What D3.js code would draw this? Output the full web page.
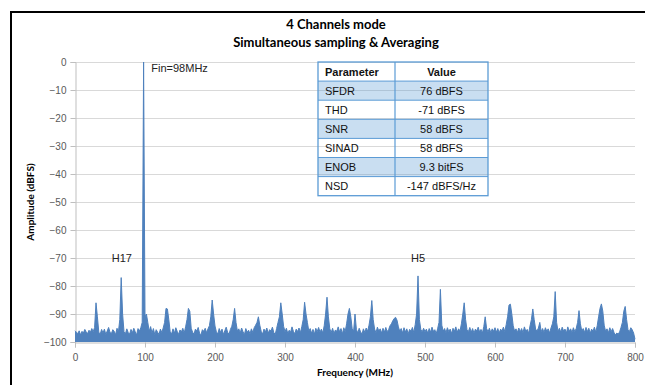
<!DOCTYPE html>
<html><head><meta charset="utf-8">
<script src="https://cdn.jsdelivr.net/npm/d3@7/dist/d3.min.js"></script>
<style>body{margin:0;background:#fff}svg{display:block}</style>
</head><body>
<svg id="c" width="645" height="385"></svg>
<script>
const titleLines = ["4 Channels mode", "Simultaneous sampling & Averaging"];
const xTicks = [0,100,200,300,400,500,600,700,800];
const yTicks = [0,-10,-20,-30,-40,-50,-60,-70,-80,-90,-100];
const freqStep = 2; // MHz between samples
const amplitude = [
 -96,-96.5,-97,-96,-97.5,-96.2,-96.8,-95.5,-96.4,-97,-95.8,-96.5,-95.2,-96.3,-94.8,-86,-91,-96.5,-97.2,-95.5,
 -96.8,-95.4,-97.3,-96.1,-94.8,-96.5,-97,-95.6,-96.2,-97.4,-95.1,-96.4,-92,-77,-90,-96.3,-97.1,-95.3,-96.6,-97.2,
 -95.5,-96.7,-95.1,-96.3,-97.5,-95.2,-96.1,-94.9,-93,0,-91,-90,-93,-96.2,-94.5,-96.8,-95.2,-97.4,-95.6,-96.5,
 -97.3,-95.4,-96.6,-95,-93,-88,-88.2,-92,-96.4,-97.1,-95.3,-96.9,-94.9,-96.2,-97.3,-95.7,-96.4,-95.1,-96.8,-94.6,
 -92,-88,-89,-95.1,-96.5,-97.2,-95.4,-96.1,-94.8,-96.9,-97.4,-95.6,-96.2,-95.1,-96.7,-95.3,-94.2,-91,-85,-90,
 -94.3,-96.4,-97.1,-95.2,-96.6,-95.4,-97.3,-96,-94.7,-96.5,-97.2,-95.5,-94.4,-92,-88,-93,-96.1,-95.3,-96.8,-95,
 -96.3,-97.4,-95.2,-96.5,-95.8,-97.1,-95.3,-96.6,-94.9,-94,-93,-91,-94,-96.2,-97.2,-95.4,-96.4,-95,-96.9,-95.6,
 -96.1,-94.7,-96.6,-97.3,-95.2,-93,-91,-86,-90,-94.4,-96.3,-95.1,-97,-95.8,-96.5,-94.6,-96.2,-97.1,-95.4,-96.3,
 -95,-96.7,-94.5,-92,-85.8,-90,-93,-96.1,-95.2,-96.9,-95.5,-97.2,-95.1,-96.3,-94.8,-96.5,-95.4,-96.8,-94.2,-90,
 -84,-91,-95.3,-96.6,-95.1,-97,-95.7,-96.2,-94.6,-96.4,-95.2,-97.1,-94.9,-96.3,-93.5,-90,-88,-91,-95.3,-96.2,
 -90,-95.5,-96.8,-95.1,-96.4,-97.2,-95.3,-96.6,-95,-96.2,-94,-91,-85.2,-92,-95.4,-96.7,-94.7,-96.1,-95.3,-96.8,
 -95.1,-96.5,-94.8,-96.3,-95.6,-94.2,-93.5,-92.4,-91.6,-91.2,-92.2,-94.6,-96.2,-95.2,-96.8,-94.9,-96.4,-95.3,-97.1,-95.5,
 -96.2,-94.8,-96.6,-93.8,-90,-76.4,-92,-95.5,-96.4,-95.1,-96.3,-95.4,-96.9,-95.2,-96.5,-94.7,-96.2,-95.6,-97,-95.3,
 -93,-81.2,-94,-96.1,-95.2,-96.7,-94.9,-96.3,-95.4,-97,-95.1,-96.2,-94.6,-96.5,-95.3,-96.1,-93.5,-90,-86,-92,
 -95.6,-96.3,-94.8,-96.5,-95.2,-96.9,-95.4,-96.1,-94.7,-96.4,-95.5,-96.8,-94.5,-91,-95.2,-96.4,-95.1,-96.7,-95.3,-96.2,
 -94.9,-96.5,-95.2,-96.8,-95.4,-96.1,-94.7,-96.3,-93.8,-91,-86.8,-86.5,-90,-94.2,-96.1,-95.3,-96.6,-95,-96.4,-95.2,
 -96.7,-94.6,-96.2,-95.5,-96.9,-94.3,-92,-88.2,-92,-95.4,-96.1,-95,-93,-96.3,-95.2,-96.6,-94.9,-96.2,-95.3,-96.8,
 -95,-93.5,-91,-82,-93,-96.2,-95.1,-96.5,-94.7,-96.1,-95.4,-96.8,-94.6,-96.2,-95.3,-96.6,-94.9,-96.3,-95.2,-93,
 -88.8,-93.5,-96.1,-95.2,-96.6,-94.8,-96.3,-95.1,-96.9,-95.4,-96.2,-94.7,-96.5,-94.2,-91,-88,-86.4,-89,-94,-96.2,
 -95.3,-96.7,-94.9,-96.3,-95.2,-96.6,-97.5,-96.8,-97.2,-96.4,-94.8,-93,-89,-87.3,-92,-95.6,-96.3,-94.9,-95.6,-96.8,
 -99
];
const tableHeader = ["Parameter", "Value"];
const paramNames = ["SFDR","THD","SNR","SINAD","ENOB","NSD"];
const paramValues = ["76 dBFS","-71 dBFS","58 dBFS","58 dBFS","9.3 bitFS","-147 dBFS/Hz"];
const annotations = [
  {text:"Fin=98MHz", f:109, db:-3.5, anchor:"start"},
  {text:"H17", f:67, db:-71.5, anchor:"middle"},
  {text:"H5", f:490, db:-71.5, anchor:"middle"}
];

const data = amplitude.map((v,i)=>({f:i*freqStep, v}));
const svg = d3.select("#c");
const W = 645, H = 385;
const m = {l:75, r:635, t:62, b:342};

// outer frame
svg.append("rect").attr("x",11).attr("y",12).attr("width",W+10).attr("height",H+10)
  .attr("fill","none").attr("stroke","#000").attr("stroke-width",2);

const x = d3.scaleLinear().domain([0,800]).range([m.l,m.r]);
const y = d3.scaleLinear().domain([-100,0]).range([m.b,m.t]);

// title
svg.selectAll("text.title").data(titleLines).join("text")
  .attr("class","title").attr("x",336).attr("y",(d,i)=>29+i*18)
  .attr("text-anchor","middle").attr("font-family","Lato, 'Open Sans', sans-serif")
  .attr("font-weight","bold").attr("font-size",13).attr("fill","#000").text(d=>d);

// gridlines
svg.append("g").selectAll("line").data(yTicks.filter(d=>d>-100)).join("line")
  .attr("x1",m.l).attr("x2",m.r).attr("y1",d=>y(d)+0.5).attr("y2",d=>y(d)+0.5)
  .attr("stroke","#d9d9d9").attr("stroke-width",1);

// axes
const yAxis = d3.axisLeft(y).tickValues(yTicks).tickSize(5).tickPadding(4);
const gy = svg.append("g").attr("transform",`translate(${m.l+0.5},0)`).call(yAxis);
const xAxis = d3.axisBottom(x).tickValues(xTicks).tickSize(5).tickPadding(6);
const gx = svg.append("g").attr("transform",`translate(0,${m.b+0.5})`).call(xAxis);
[gx,gy].forEach(g=>{
  g.select(".domain").attr("stroke","#bfbfbf");
  g.selectAll(".tick line").attr("stroke","#bfbfbf");
  g.selectAll(".tick text").attr("font-family","'Liberation Sans', Arial, sans-serif")
   .attr("font-size",10).attr("fill","#595959");
});

// spectrum
const area = d3.area().x(d=>x(d.f)).y0(y(-100)).y1(d=>y(d.v));
const line = d3.line().x(d=>x(d.f)).y(d=>y(d.v));
svg.append("path").datum(data).attr("d",area).attr("fill","#4f81bd");
svg.append("path").datum(data).attr("d",line).attr("fill","none")
  .attr("stroke","#4f81bd").attr("stroke-width",1).attr("stroke-linejoin","miter");

// axis titles
svg.append("text").attr("transform",`translate(34,${(m.t+m.b)/2}) rotate(-90)`)
  .attr("text-anchor","middle").attr("font-family","Lato, 'Open Sans', sans-serif")
  .attr("font-weight","bold").attr("font-size",10).text("Amplitude (dBFS)");
svg.append("text").attr("x",355).attr("y",376)
  .attr("text-anchor","middle").attr("font-family","Lato, 'Open Sans', sans-serif")
  .attr("font-weight","bold").attr("font-size",10).text("Frequency (MHz)");

// annotations
svg.selectAll("text.ann").data(annotations).join("text").attr("class","ann")
  .attr("x",d=>x(d.f)).attr("y",d=>y(d.db)).attr("text-anchor",d=>d.anchor)
  .attr("font-family","'Liberation Sans', Arial, sans-serif").attr("font-size",11)
  .attr("fill","#222").text(d=>d.text);

// table
const tX0 = 318, tX1 = 395, tX2 = 488, tY0 = 62, rowH = 19.1;
const tg = svg.append("g");
const rows = [tableHeader].concat(paramNames.map((n,i)=>[n,paramValues[i]]));
rows.forEach((r,i)=>{
  const yy = tY0 + i*rowH;
  if(i%2===1) tg.append("rect").attr("x",tX0).attr("y",yy).attr("width",tX2-tX0).attr("height",rowH)
      .attr("fill","#5b9bd5").attr("fill-opacity",0.33);
  tg.append("text").attr("x",tX0+7).attr("y",yy+rowH/2+4).attr("font-size",11)
    .attr("font-family","'Liberation Sans', Arial, sans-serif").attr("fill","#111")
    .attr("font-weight",i===0?"bold":"normal").text(r[0]);
  tg.append("text").attr("x",(tX1+tX2)/2).attr("y",yy+rowH/2+4).attr("font-size",11)
    .attr("text-anchor","middle")
    .attr("font-family","'Liberation Sans', Arial, sans-serif").attr("fill","#111")
    .attr("font-weight",i===0?"bold":"normal").text(r[1]);
  if(i>0) tg.append("line").attr("x1",tX0).attr("x2",tX2).attr("y1",yy).attr("y2",yy)
      .attr("stroke","#5b9bd5").attr("stroke-width",1);
});
tg.append("line").attr("x1",tX1).attr("x2",tX1).attr("y1",tY0).attr("y2",tY0+rows.length*rowH)
  .attr("stroke","#5b9bd5").attr("stroke-width",1.2);
tg.append("rect").attr("x",tX0).attr("y",tY0).attr("width",tX2-tX0).attr("height",rows.length*rowH)
  .attr("fill","none").attr("stroke","#5b9bd5").attr("stroke-width",1.3);
</script>
</body></html>
